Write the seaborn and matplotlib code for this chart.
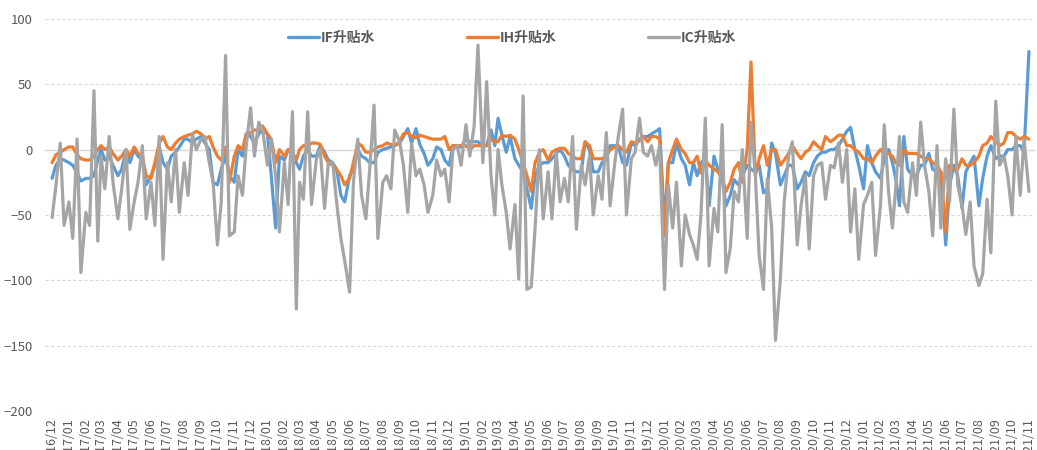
import pandas as pd
import matplotlib.pyplot as plt
import seaborn as sns

# four readings per month, 2016/12 .. 2021/11
if_basis = [
    -22, -12, -7, -8,
    -10, -12, -18, -24, -22, -22, -20, -8, 0, -8, -5, -12, -20, -15, 0, -10, 0, -5, -8, -27,
    -20, -12, 2, -10, -15, -5, -2, 2, 8, 8, 5, 8, 10, 5, 0, -25, -27, -15, -5, -20, -25, 0, -5, 12,
    10, 5, 12, 15, 12, -20, -60, -5, -8, 0, -2, -10, -15, -5, 0, -5, -5, 3, -2, -8, -10, -15, -35, -40,
    -20, -15, 0, -5, -7, -10, -10, -2, 0, 1, 2, 3, 5, 10, 16, 5, 16, 4, -3, -12, -7, 2, 0, -8,
    -12, 3, 2, 2, 8, 6, 6, 6, 3, 3, 15, 3, 24, 11, -2, 10, -7, -12, -17, -30, -45, -20, -12, -10,
    -10, -7, -3, 0, -5, -12, -15, -17, -17, 6, 0, -17, -17, -10, -7, 3, 3, 3, -10, -12, 5, 3, 8, 10,
    10, 12, 14, 16, -58, -10, -10, 5, -7, -12, -27, -10, -20, -10, -7, -43, -5, -15, -22, -43, -35, -23, -27, -20,
    -12, -15, -17, -12, -33, -30, 5, -3, -27, -20, -12, -12, -30, -25, -17, -20, -10, -5, -2, -2, 0, 0, 3, 8,
    14, 17, 0, -12, -30, 3, -10, -17, -22, -7, 0, -10, -22, -43, 10, -15, -20, -20, -12, -12, -3, -15, -17, -17,
    -73, -27, -12, -20, -45, -17, -10, -5, -43, -22, -5, 3, -7, -5, -5, 0, 0, 3, 3, -2,
    75,
]
ih_basis = [
    -10, -4, -2, 0,
    2, 2, -4, -7, -8, -8, -5, 0, 3, 0, 2, -3, -8, -5, 0, -5, 2, -3, -5, -20,
    -22, -10, 5, 10, 2, 0, 5, 8, 10, 11, 12, 14, 12, 8, 10, 2, -5, -8, 2, -25, -5, 3, 0, 12,
    13, 15, 15, 18, 12, 8, -10, 0, -5, 0, -2, -8, 0, 3, 3, 5, 5, 4, -5, -10, -12, -15, -20, -27,
    -22, -10, 5, 3, -2, -2, 0, 2, 3, 5, 4, 3, 6, 12, 13, 10, 9, 11, 10, 9, 8, 8, 8, 10,
    0, 3, 3, 3, 3, 0, 3, 3, 3, 3, 8, 6, 6, 11, 10, 11, 8, 0, -10, -20, -32, -10, -2, 0,
    -8, -2, 0, 1, 1, -3, -5, -7, -7, 6, 3, -7, -7, -7, -5, 0, 2, 3, 0, -2, 6, 5, 7, 10,
    6, 10, 10, 8, -66, -10, 0, 8, 0, -3, -10, -10, -5, -18, -8, -12, -15, -17, -22, -32, -25, -15, -10, -25,
    0, 67, -20, -7, 3, -12, 0, 0, -12, -8, -3, 3, -3, -7, -2, 0, 6, 3, 0, 10, 6, 8, 11, 11,
    3, 3, 0, -2, -7, -7, -10, -5, 0, -3, -3, -5, -10, -12, 0, -3, -3, -3, -5, -7, -7, -10, -12, -17,
    -63, -12, -15, -15, -7, -12, -12, -10, -5, 3, 5, 10, 6, 3, 5, 13, 13, 10, 8, 10,
    8,
]
ic_basis = [
    -52, -28, 5, -58,
    -40, -68, 8, -94, -48, -58, 45, -70, -5, -30, 10, -25, -53, -30, 0, -61, -40, -25, 3, -53,
    -25, -58, 10, -84, -10, -40, 0, -48, -10, -35, 12, 0, 8, 10, -10, -25, -73, -40, 72, -66, -63, -20, -35, 3,
    32, -5, 21, 15, -12, 8, -20, -63, -10, -42, 29, -122, -25, -38, 29, -42, -7, 0, -45, -10, -10, -40, -68, -85,
    -109, -25, 8, -35, -53, -15, 34, -68, -25, -20, -30, 15, 6, -12, -48, 5, -20, -15, -27, -48, -35, -8, -20, -15,
    -40, 0, 3, -12, 19, -5, 18, 80, -10, 52, -20, -50, 0, -27, -48, -76, -42, -99, 41, -107, -105, -60, 0, -53,
    -17, -53, -2, -40, -22, -40, 10, -61, -12, -27, -5, -50, -20, -38, 13, -43, -12, 10, 31, -50, -7, -2, 24, -2,
    -5, 3, -12, 3, -107, -27, -60, -25, -89, -50, -65, -73, -84, -50, 24, -89, -45, -63, 19, -94, -75, -32, -40, 0,
    -68, 21, -20, -81, -107, -22, -60, -146, -99, -40, -5, 6, -73, -43, -20, -76, -20, -12, -10, -38, -12, -14, 5, -25,
    0, -63, -30, -84, -42, -35, -25, -81, -43, 19, -33, -60, -30, 10, -40, -48, -10, -35, 21, -12, -32, -66, 3, -60,
    -7, -40, 31, -27, -43, -65, -40, -89, -104, -95, -38, -79, 37, -12, -5, -20, -50, 10, -35, 8,
    -32,
]
series_names = ['IF升贴水', 'IH升贴水', 'IC升贴水']
colors = ['#5B9BD5', '#ED7D31', '#A5A5A5']

months = pd.date_range('2016-12-01', '2021-11-01', freq='MS')
dates = [m + pd.Timedelta(days=d) for m in months for d in (0, 7, 15, 22)]

frames = []
for name, vals in zip(series_names, [if_basis, ih_basis, ic_basis]):
    frames.append(pd.DataFrame({'date': dates[:len(vals)], 'value': vals, 'series': name}))
df = pd.concat(frames, ignore_index=True)

sns.set_style('white')
plt.rcParams['font.family'] = ['Noto Sans CJK SC', 'DejaVu Sans']

fig = plt.figure(figsize=(10.37, 4.5), dpi=100)
ax = fig.add_axes([0.0434, 0.0867, 0.9546, 0.8713])

sns.lineplot(data=df, x='date', y='value', hue='series', hue_order=series_names,
             palette=colors, linewidth=2.3, estimator=None, ax=ax)

ax.set_ylim(-200, 100)
ax.set_yticks(range(-200, 101, 50))
ax.yaxis.grid(True, linestyle=(0, (3, 2)), color='#D9D9D9', linewidth=0.8)
ax.axhline(0, color='#D9D9D9', linewidth=1.0, zorder=0.5)
ax.set_axisbelow(True)

# the x labels run off the bottom edge, as in the source chart
ax.set_xlim(pd.Timestamp('2016-11-18'), pd.Timestamp('2021-11-12'))
ax.set_xticks(months)
ax.set_xticklabels([m.strftime('%Y/%m') for m in months], rotation=90, va='top', ha='center')
ax.tick_params(axis='x', length=0, pad=5, labelsize=9, labelcolor='#595959')
ax.tick_params(axis='y', length=0, pad=9, labelsize=9.5, labelcolor='#595959')
ax.set_xlabel('')
ax.set_ylabel('')
for s in ax.spines.values():
    s.set_visible(False)

handles, labels = ax.get_legend_handles_labels()
leg = ax.legend(handles, labels, ncol=3, loc='upper center', bbox_to_anchor=(0.472, 0.995),
                frameon=False, fontsize=10, columnspacing=6.6, handlelength=2.2,
                handletextpad=0.15, borderaxespad=0.3)
for t in leg.get_texts():
    t.set_color('#595959')
    t.set_fontweight('bold')
for h in leg.get_lines():
    h.set_linewidth(2.4)

fig.savefig('out.png', dpi=100)
